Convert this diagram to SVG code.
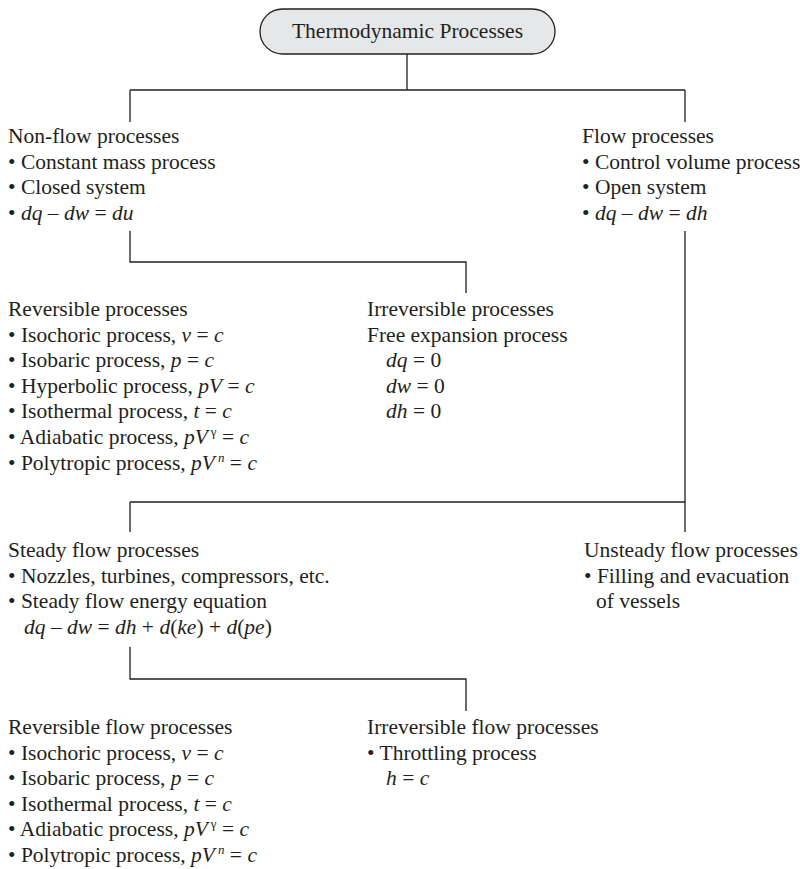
<svg xmlns="http://www.w3.org/2000/svg" width="800" height="869" viewBox="0 0 800 869">
<style>
text{font-family:"Liberation Serif","Times New Roman",serif;font-size:21.5px;fill:#231f20}
.i{font-style:italic}
.sup{font-size:13px}
.ln{stroke:#231f20;stroke-width:1.3;fill:none}
</style>
<rect width="800" height="869" fill="#fff"/>
<g id="connectors">
<path class="ln" d="M407 54V90M130 90H685M130 90V122M685 90V122"/>
<path class="ln" d="M130 231V262H466V293"/>
<path class="ln" d="M685 231V532M130 502H685M130 502V532"/>
<path class="ln" d="M130 647V679H466V711"/>
</g>
<g id="root">
<rect x="260" y="9" width="295" height="45" rx="22.5" ry="22.5" fill="#e6e7e8" stroke="#231f20" stroke-width="1.3"/>
<text x="407.5" y="37.5" text-anchor="middle">Thermodynamic Processes</text>
</g>
<g id="nonflow">
<text x="8" y="143">Non-flow processes</text>
<text x="8" y="168.6">• Constant mass process</text>
<text x="8" y="194.2">• Closed system</text>
<text x="8" y="219.8">• <tspan class="i">dq</tspan> – <tspan class="i">dw</tspan> = <tspan class="i">du</tspan></text>
</g>
<g id="flow">
<text x="582" y="143">Flow processes</text>
<text x="582" y="168.6">• Control volume process</text>
<text x="582" y="194.2">• Open system</text>
<text x="582" y="219.8">• <tspan class="i">dq</tspan> – <tspan class="i">dw</tspan> = <tspan class="i">dh</tspan></text>
</g>
<g id="reversible">
<text x="8" y="316">Reversible processes</text>
<text x="8" y="341.6">• Isochoric process, <tspan class="i">v</tspan> = <tspan class="i">c</tspan></text>
<text x="8" y="367.2">• Isobaric process, <tspan class="i">p</tspan> = <tspan class="i">c</tspan></text>
<text x="8" y="392.8">• Hyperbolic process, <tspan class="i">pV</tspan> = <tspan class="i">c</tspan></text>
<text x="8" y="418.4">• Isothermal process, <tspan class="i">t</tspan> = <tspan class="i">c</tspan></text>
<text x="8" y="444">• Adiabatic process, <tspan class="i">pV</tspan><tspan dx="3" dy="-8" class="sup">γ</tspan><tspan dy="8"> = </tspan><tspan class="i">c</tspan></text>
<text x="8" y="469.6">• Polytropic process, <tspan class="i">pV</tspan><tspan dx="3" dy="-8" class="sup i">n</tspan><tspan dy="8"> = </tspan><tspan class="i">c</tspan></text>
</g>
<g id="irreversible">
<text x="367" y="316">Irreversible processes</text>
<text x="367" y="341.6">Free expansion process</text>
<text x="386" y="367.2"><tspan class="i">dq</tspan> = 0</text>
<text x="386" y="392.8"><tspan class="i">dw</tspan> = 0</text>
<text x="386" y="418.4"><tspan class="i">dh</tspan> = 0</text>
</g>
<g id="steady">
<text x="8" y="557">Steady flow processes</text>
<text x="8" y="582.6">• Nozzles, turbines, compressors, etc.</text>
<text x="8" y="608.2">• Steady flow energy equation</text>
<text x="24" y="633.8"><tspan class="i">dq</tspan> – <tspan class="i">dw</tspan> = <tspan class="i">dh</tspan> + <tspan class="i">d</tspan>(<tspan class="i">ke</tspan>) + <tspan class="i">d</tspan>(<tspan class="i">pe</tspan>)</text>
</g>
<g id="unsteady">
<text x="584" y="557">Unsteady flow processes</text>
<text x="584" y="582.6">• Filling and evacuation</text>
<text x="596" y="608.2">of vessels</text>
</g>
<g id="revflow">
<text x="8" y="734">Reversible flow processes</text>
<text x="8" y="759.6">• Isochoric process, <tspan class="i">v</tspan> = <tspan class="i">c</tspan></text>
<text x="8" y="785.2">• Isobaric process, <tspan class="i">p</tspan> = <tspan class="i">c</tspan></text>
<text x="8" y="810.8">• Isothermal process, <tspan class="i">t</tspan> = <tspan class="i">c</tspan></text>
<text x="8" y="836.4">• Adiabatic process, <tspan class="i">pV</tspan><tspan dx="3" dy="-8" class="sup">γ</tspan><tspan dy="8"> = </tspan><tspan class="i">c</tspan></text>
<text x="8" y="862">• Polytropic process, <tspan class="i">pV</tspan><tspan dx="3" dy="-8" class="sup i">n</tspan><tspan dy="8"> = </tspan><tspan class="i">c</tspan></text>
</g>
<g id="irrevflow">
<text x="367" y="734">Irreversible flow processes</text>
<text x="367" y="759.6">• Throttling process</text>
<text x="386" y="785.2"><tspan class="i">h</tspan> = <tspan class="i">c</tspan></text>
</g>
</svg>
